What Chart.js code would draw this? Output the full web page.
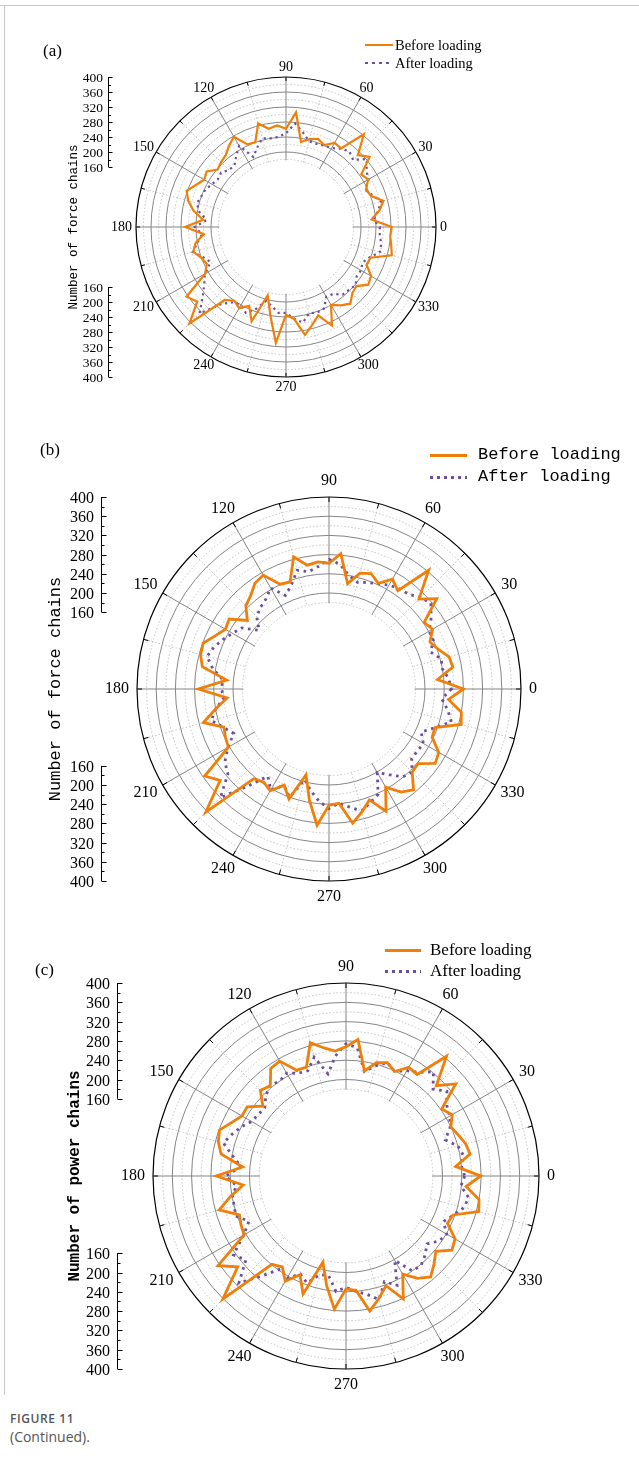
<!DOCTYPE html>
<html>
<head>
<meta charset="utf-8">
<script src="https://cdn.jsdelivr.net/npm/chart.js@4.4.1/dist/chart.umd.min.js"></script>
<style>
  html, body { margin: 0; padding: 0; background: #fff; }
  #page { position: relative; width: 639px; height: 1481px; overflow: hidden; background: #fff; }
  .frame-top { position: absolute; left: 0; top: 5px; width: 639px; height: 1px; background: #c9c9c9; }
  .frame-left { position: absolute; left: 4px; top: 5px; width: 1px; height: 1390px; background: #c9c9c9; }
  canvas { position: absolute; left: 0; }
  .txt { position: absolute; color: #000; white-space: nowrap; }
  .serif { font-family: "Liberation Serif", "Times New Roman", serif; }
  .mono { font-family: "Liberation Mono", "DejaVu Sans Mono", monospace; }
  .swatch { position: absolute; }
  .solid { background: #f07f0a; }
  .dots { background: repeating-linear-gradient(90deg, #6b4ea0 0 3px, transparent 3px 7px); }
  .cap1 { position: absolute; left: 10px; top: 1410px; font: 600 12px "Open Sans", "Noto Sans", sans-serif; color: #555; letter-spacing: 0.6px; }
  .cap2 { position: absolute; left: 10px; top: 1427px; font: 14px "Open Sans", "Noto Sans", sans-serif; color: #555; }
</style>
</head>
<body>
<div id="page">
  <div class="frame-top"></div>
  <div class="frame-left"></div>

  <canvas id="chartA" width="639" height="420" style="top:0px"></canvas>
  <canvas id="chartB" width="639" height="500" style="top:420px"></canvas>
  <canvas id="chartC" width="639" height="500" style="top:900px"></canvas>

  <!-- panel (a) -->
  <div class="txt serif" style="left:43px;top:42px;font-size:17px;line-height:17px">(a)</div>
  <div class="swatch solid" style="left:365px;top:44px;width:28px;height:2px"></div>
  <div class="txt serif" style="left:395px;top:37px;font-size:14.5px;line-height:16px">Before loading</div>
  <div class="swatch dots" style="left:365px;top:62px;width:28px;height:2px"></div>
  <div class="txt serif" style="left:395px;top:55px;font-size:14.5px;line-height:16px">After loading</div>

  <!-- panel (b) -->
  <div class="txt serif" style="left:40px;top:441px;font-size:17px;line-height:17px">(b)</div>
  <div class="swatch solid" style="left:430px;top:454px;width:37px;height:3px"></div>
  <div class="txt mono" style="left:478px;top:445px;font-size:17px;line-height:20px">Before loading</div>
  <div class="swatch dots" style="left:430px;top:476px;width:37px;height:3px"></div>
  <div class="txt mono" style="left:478px;top:467px;font-size:17px;line-height:20px">After loading</div>

  <!-- panel (c) -->
  <div class="txt serif" style="left:35px;top:961px;font-size:17px;line-height:17px">(c)</div>
  <div class="swatch solid" style="left:385px;top:949px;width:36px;height:3px"></div>
  <div class="txt serif" style="left:430px;top:940px;font-size:17px;line-height:20px">Before loading</div>
  <div class="swatch dots" style="left:385px;top:970px;width:36px;height:3px"></div>
  <div class="txt serif" style="left:430px;top:961px;font-size:17px;line-height:20px">After loading</div>

  <div class="cap1">FIGURE 11</div>
  <div class="cap2">(Continued).</div>
</div>

<script>
// Direction of each sample, degrees counter-clockwise from the positive x axis
const angleDeg = [
  0, 5, 10, 15, 20, 25, 30, 35, 40, 45, 50, 55, 60, 65, 70, 75, 80, 85,
  90, 95, 100, 105, 110, 115, 120, 125, 130, 135, 140, 145, 150, 155, 160, 165, 170, 175,
  180, 185, 190, 195, 200, 205, 210, 215, 220, 225, 230, 235, 240, 245, 250, 255, 260, 265,
  270, 275, 280, 285, 290, 295, 300, 305, 310, 315, 320, 325, 330, 335, 340, 345, 350, 355
];

// Number of chains per direction, panel (a)
const beforeA = [
  282, 229, 253, 269, 242, 235, 253, 245, 291, 271, 323, 256, 259, 241, 250, 243, 230, 307,
  262, 272, 266, 286, 240, 243, 278, 265, 250, 245, 238, 258, 252, 265, 282, 270, 250, 222,
  269, 220, 245, 256, 240, 233, 249, 324, 309, 364, 254, 240, 250, 232, 268, 189, 240, 310,
  234, 246, 292, 270, 251, 290, 240, 255, 267, 250, 245, 268, 262, 237, 240, 292, 285, 279
];
const afterA = [
  250, 234, 250, 262, 247, 234, 254, 262, 282, 253, 263, 255, 243, 240, 236, 237, 257, 277,
  250, 241, 240, 245, 225, 206, 250, 231, 214, 215, 226, 222, 228, 237, 240, 246, 235, 213,
  243, 225, 240, 257, 235, 222, 250, 266, 290, 326, 268, 245, 240, 253, 232, 204, 215, 230,
  229, 245, 259, 238, 243, 240, 215, 218, 235, 237, 242, 230, 231, 225, 237, 259, 258, 251
];

// Panel (b)
const beforeB = [
  280, 227, 262, 259, 242, 232, 249, 242, 293, 265, 323, 250, 264, 243, 256, 250, 223, 283,
  262, 266, 262, 285, 237, 241, 274, 269, 254, 245, 222, 254, 249, 262, 279, 277, 268, 214,
  272, 213, 240, 271, 233, 238, 242, 316, 296, 363, 244, 237, 245, 221, 244, 185, 235, 285,
  242, 239, 284, 265, 246, 281, 236, 262, 274, 245, 242, 270, 264, 237, 235, 285, 280, 250
];
const afterB = [
  255, 250, 240, 242, 225, 240, 241, 260, 277, 270, 258, 255, 250, 242, 236, 230, 240, 261,
  270, 256, 248, 256, 230, 215, 243, 229, 222, 213, 190, 222, 232, 244, 255, 263, 246, 222,
  224, 220, 240, 254, 234, 219, 243, 265, 275, 320, 265, 222, 243, 222, 240, 195, 216, 235,
  249, 239, 250, 263, 252, 242, 201, 218, 239, 245, 225, 225, 227, 212, 235, 264, 251, 236
];

// Panel (c)
const beforeC = [
  279, 228, 261, 257, 248, 240, 254, 242, 297, 265, 324, 257, 260, 239, 250, 243, 221, 284,
  268, 260, 270, 286, 240, 242, 275, 272, 244, 251, 225, 250, 249, 262, 279, 274, 263, 215,
  269, 214, 243, 272, 235, 240, 244, 324, 293, 361, 239, 230, 252, 226, 260, 185, 231, 277,
  234, 238, 284, 263, 242, 281, 235, 259, 273, 258, 243, 268, 261, 232, 236, 285, 280, 250
];
const afterC = [
  246, 240, 247, 240, 219, 238, 248, 255, 273, 255, 282, 262, 252, 239, 250, 236, 220, 267,
  274, 250, 215, 255, 232, 235, 246, 240, 245, 235, 220, 222, 226, 240, 252, 263, 238, 218,
  250, 228, 239, 240, 243, 222, 245, 285, 271, 314, 270, 235, 245, 224, 236, 212, 209, 240,
  231, 240, 249, 265, 233, 250, 202, 240, 242, 232, 219, 235, 241, 223, 237, 253, 258, 239
];

// Tick labels
const angleTickLabels = ['0', '30', '60', '90', '120', '150', '180', '210', '240', '270', '300', '330'];
const radialTickLabels = [160, 200, 240, 280, 320, 360, 400];
const radialMinorTicks = [180, 220, 260, 300, 340, 380];
const rimTickDeg = [0, 15, 30, 45, 60, 75, 90, 105, 120, 135, 150, 165, 180, 195, 210, 225, 240, 255, 270, 285, 300, 315, 330, 345];
const holeValue = 180;
const seriesNames = ['Before loading', 'After loading'];

// The radar scale runs clockwise from its start angle, so the samples are
// re-ordered to put 0 deg on the right and increase counter-clockwise.
const n = angleDeg.length;
const order = angleDeg.map((_, i) => (n - i) % n);
const radarLabels = order.map(j => String(angleDeg[j]));
const toRadar = arr => order.map(j => arr[j]);
const indexOfDeg = d => ((360 - d) % 360) / 5;

const SOLID = '#858585';
const LIGHT = '#c2c2c2';

const polarDecor = {
  id: 'polarDecor',
  beforeDatasetsDraw(chart, args, o) {
    const s = chart.scales.r, ctx = chart.ctx;
    const R = s.getDistanceFromCenterForValue(s.max);
    ctx.save();
    // empty core inside the innermost ring
    ctx.beginPath();
    ctx.arc(s.xCenter, s.yCenter, s.getDistanceFromCenterForValue(holeValue) - 0.7, 0, Math.PI * 2);
    ctx.fillStyle = '#fff';
    ctx.fill();
    // small ticks on the rim
    ctx.strokeStyle = '#000';
    ctx.lineWidth = 1;
    for (const d of rimTickDeg) {
      const i = indexOfDeg(d);
      const p1 = s.getPointPosition(i, R);
      const p2 = s.getPointPosition(i, R - o.rimTick);
      ctx.beginPath();
      ctx.moveTo(p1.x, p1.y);
      ctx.lineTo(p2.x, p2.y);
      ctx.stroke();
    }
    ctx.restore();
  },
  afterDraw(chart, args, o) {
    const s = chart.scales.r, ctx = chart.ctx;
    const R = s.getDistanceFromCenterForValue(s.max);
    ctx.save();
    ctx.fillStyle = '#000';
    // direction labels around the rim
    ctx.font = o.angleFont;
    ctx.textAlign = 'center';
    ctx.textBaseline = 'middle';
    for (const lab of angleTickLabels) {
      const d = Number(lab);
      const i = indexOfDeg(d);
      const p = s.getPointPosition(i, R + o.angleGap);
      const w = ctx.measureText(lab).width;
      const rad = d * Math.PI / 180;
      const x = p.x + Math.cos(rad) * w / 2;
      const y = p.y - Math.sin(rad) * o.angleHalfH;
      ctx.fillText(lab, x, y);
    }
    // radial axis drawn on the left, once upward and once downward
    ctx.strokeStyle = '#000';
    ctx.lineWidth = 1;
    ctx.font = o.tickFont;
    ctx.textAlign = 'right';
    const ax = o.axisX + 0.5;
    for (const sgn of [-1, 1]) {
      const yOf = v => s.yCenter + sgn * s.getDistanceFromCenterForValue(v);
      ctx.beginPath();
      ctx.moveTo(ax, yOf(radialTickLabels[0]));
      ctx.lineTo(ax, yOf(radialTickLabels[radialTickLabels.length - 1]));
      ctx.stroke();
      for (const v of radialMinorTicks) {
        const y = Math.round(yOf(v)) + 0.5;
        ctx.beginPath();
        ctx.moveTo(ax, y);
        ctx.lineTo(ax + o.minorLen, y);
        ctx.stroke();
      }
      for (const v of radialTickLabels) {
        const y = Math.round(yOf(v)) + 0.5;
        ctx.beginPath();
        ctx.moveTo(ax, y);
        ctx.lineTo(ax + o.majorLen, y);
        ctx.stroke();
        ctx.fillText(String(v), o.axisX - o.labelGap, y + o.tickDy);
      }
    }
    // axis title
    ctx.translate(o.titleX, s.yCenter);
    ctx.rotate(-Math.PI / 2);
    ctx.font = o.titleFont;
    ctx.textAlign = 'center';
    ctx.fillText(o.title, 0, 0);
    ctx.restore();
  }
};

function isMajor(v) { return v % 40 === 0; }

function makeChart(id, before, after, p) {
  const ctx = document.getElementById(id).getContext('2d');
  return new Chart(ctx, {
    type: 'radar',
    data: {
      labels: radarLabels,
      datasets: [
        {
          label: seriesNames[0],
          data: toRadar(before),
          borderColor: '#f07f0a',
          borderWidth: p.lw,
          borderJoinStyle: 'miter',
          pointRadius: 0,
          fill: false,
          tension: 0
        },
        {
          label: seriesNames[1],
          data: toRadar(after),
          borderColor: '#6b4ea0',
          borderWidth: p.lw,
          borderDash: p.dash,
          pointRadius: 0,
          fill: false,
          tension: 0
        }
      ]
    },
    options: {
      responsive: false,
      animation: false,
      devicePixelRatio: 1,
      layout: { padding: p.pad },
      plugins: {
        legend: { display: false },
        tooltip: { enabled: false },
        polarDecor: p.decor
      },
      scales: {
        r: {
          min: 0,
          max: 400,
          startAngle: 90,
          ticks: { display: false, stepSize: 20 },
          pointLabels: { display: false },
          grid: {
            circular: true,
            color: c => {
              const v = c.tick.value;
              if (v < holeValue) return 'rgba(0,0,0,0)';
              if (v === 400) return '#000';
              return isMajor(v) ? SOLID : LIGHT;
            },
            lineWidth: c => (c.tick.value === 400 ? 1.2 : 1)
          },
          border: {
            dash: c => (isMajor(c.tick.value) ? [] : [1.5, 2])
          },
          angleLines: {
            color: c => {
              const d = Number(c.label);
              if (d % 15 !== 0) return 'rgba(0,0,0,0)';
              return d % 30 === 0 ? SOLID : LIGHT;
            },
            lineWidth: 1,
            borderDash: c => (Number(c.label) % 30 === 0 ? [] : [1.5, 2])
          }
        }
      }
    },
    plugins: [polarDecor]
  });
}

makeChart('chartA', beforeA, afterA, {
  lw: 2.2, dash: [2.2, 3.8],
  pad: { left: 136, right: 203, top: 77, bottom: 43 },
  decor: {
    rimTick: 4, angleFont: '14px "Liberation Serif"', angleGap: 4, angleHalfH: 6,
    tickFont: '13.5px "Liberation Serif"', axisX: 108, majorLen: 4, minorLen: 2.5, labelGap: 5, tickDy: 1,
    title: 'Number of force chains', titleFont: '12.5px "Liberation Mono"', titleX: 74
  }
});

makeChart('chartB', beforeB, afterB, {
  lw: 2.8, dash: [2.6, 4.6],
  pad: { left: 137, right: 118, top: 77, bottom: 39 },
  decor: {
    rimTick: 5, angleFont: '16px "Liberation Serif"', angleGap: 8, angleHalfH: 8,
    tickFont: '16px "Liberation Serif"', axisX: 101, majorLen: 5, minorLen: 3, labelGap: 7, tickDy: 1,
    title: 'Number of force chains', titleFont: '17px "Liberation Mono"', titleX: 55
  }
});

makeChart('chartC', beforeC, afterC, {
  lw: 2.8, dash: [2.6, 4.6],
  pad: { left: 153, right: 100, top: 83, bottom: 31 },
  decor: {
    rimTick: 5, angleFont: '16px "Liberation Serif"', angleGap: 8, angleHalfH: 8,
    tickFont: '16px "Liberation Serif"', axisX: 117, majorLen: 5, minorLen: 3, labelGap: 7, tickDy: 1,
    title: 'Number of power chains', titleFont: 'bold 16px "Liberation Mono"', titleX: 75
  }
});
</script>
</body>
</html>
